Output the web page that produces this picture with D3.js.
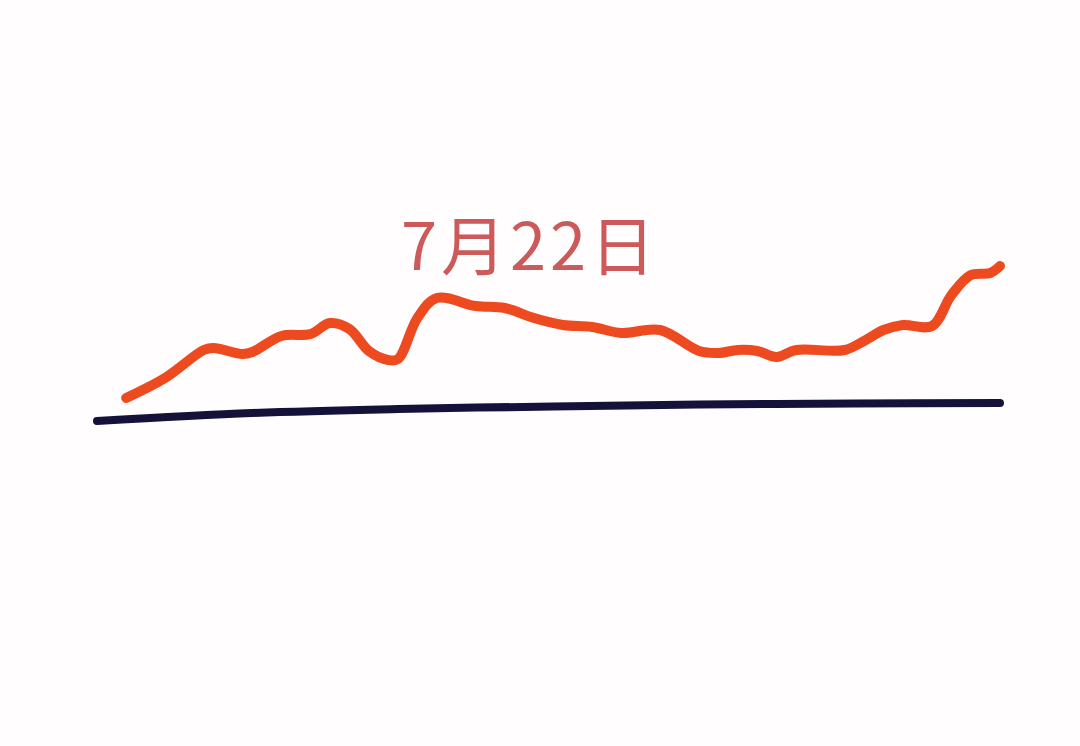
<!DOCTYPE html>
<html>
<head>
<meta charset="utf-8">
<script src="https://cdn.jsdelivr.net/npm/d3@7"></script>
<style>
html,body{margin:0;padding:0;background:#fffdfd;}
svg{display:block;}
</style>
</head>
<body>
<svg id="chart" width="1080" height="746"></svg>
<script>
// Data
const orangeDays = [3,7,11,12,15,16,19,22,24,26,28,30,31,33,35,39,42,45,48,51,54,58,62,64,66,68,70,72,77,79,81,83,86,88,90,92,93];
const orangeValues = [62,82,110,112,106,108,124,126,137,131,109,100,101,142,162,154,152,142,135,133,127,130,109,107,110,109,103,110,110,119,130,135,134,165,185,187,194];
const baseDays = [0,16,31,47,62,78,93];
const baseValues = [39,47,51,53.5,55.5,56.5,57];
const labelText = "7月22日";

const svg = d3.select("#chart");
const x = d3.scaleLinear().domain([0,93]).range([97,1000]);
const y = d3.scaleLinear().domain([0,200]).range([460,260]);

const lineGen = d3.line().x(d=>x(d[0])).y(d=>y(d[1])).curve(d3.curveCatmullRom.alpha(0.5));

svg.append("path")
  .datum(baseDays.map((d,i)=>[d,baseValues[i]]))
  .attr("d", lineGen)
  .attr("fill","none")
  .attr("stroke","#15123a")
  .attr("stroke-width",8)
  .attr("stroke-linecap","round");

svg.append("path")
  .datum(orangeDays.map((d,i)=>[d,orangeValues[i]]))
  .attr("d", lineGen)
  .attr("fill","none")
  .attr("stroke","#ee4a1f")
  .attr("stroke-width",10)
  .attr("stroke-linecap","round")
  .attr("stroke-linejoin","round");

svg.append("text")
  .attr("x",530)
  .attr("y",270)
  .attr("text-anchor","middle")
  .attr("font-family","'Noto Sans CJK SC', 'Noto Sans', sans-serif")
  .attr("font-size",65)
  .attr("font-weight",400)
  .attr("letter-spacing",4)
  .attr("fill","#cc5a5a")
  .text(labelText);
</script>
</body>
</html>
